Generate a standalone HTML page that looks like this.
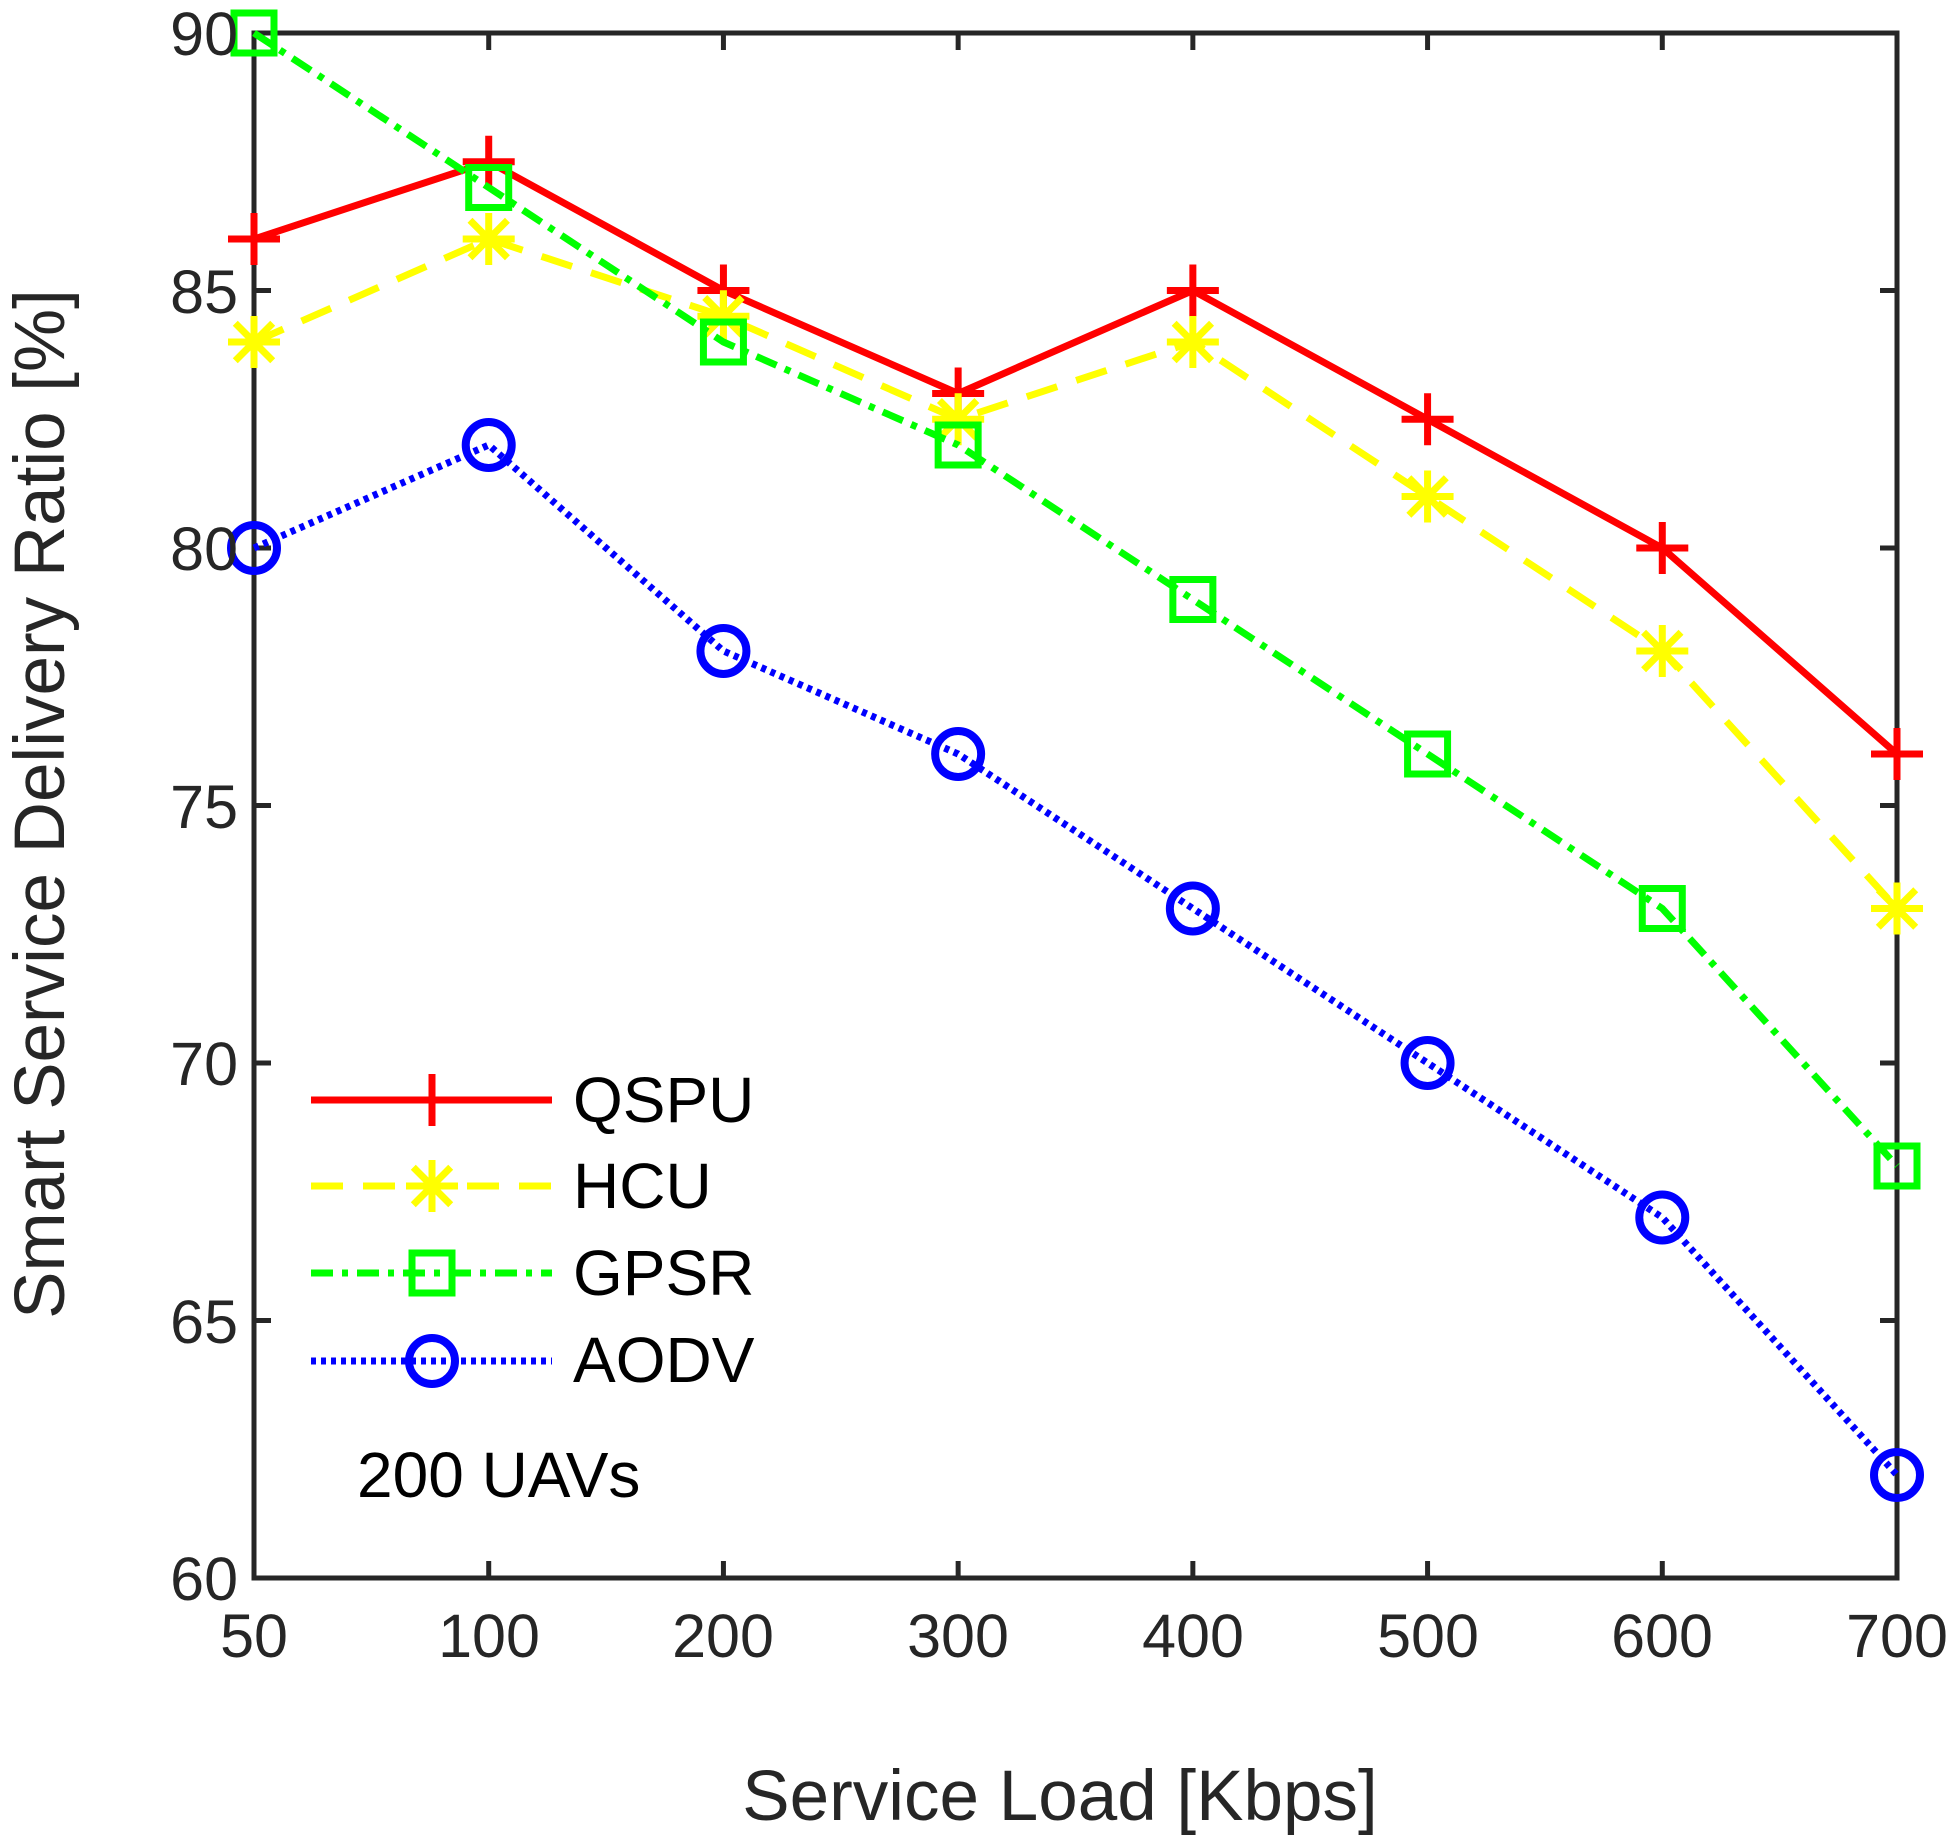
<!DOCTYPE html>
<html><head><meta charset="utf-8"><style>
html,body{margin:0;padding:0;background:#fff}
svg{display:block}
text{font-family:"Liberation Sans",Arial,sans-serif;fill:#262626}
</style></head><body>
<svg id="s" width="1957" height="1837" viewBox="0 0 1957 1837" xmlns="http://www.w3.org/2000/svg">
<rect width="1957" height="1837" fill="#fff"/>
<g id="axes" stroke="#262626" stroke-width="5" fill="none"></g>
<g id="series"></g>
<g font-size="61" text-anchor="end">
<text x="238" y="1600">60</text><text x="238" y="1343">65</text><text x="238" y="1085">70</text>
<text x="238" y="828">75</text><text x="238" y="570">80</text><text x="238" y="313">85</text><text x="238" y="55">90</text>
</g>
<g font-size="61" text-anchor="middle">
<text x="254" y="1657">50</text><text x="489" y="1657">100</text><text x="723" y="1657">200</text>
<text x="958" y="1657">300</text><text x="1193" y="1657">400</text><text x="1428" y="1657">500</text>
<text x="1662" y="1657">600</text><text x="1897" y="1657">700</text>
</g>
<text x="1060" y="1820" font-size="71" text-anchor="middle">Service Load [Kbps]</text>
<text transform="translate(64,804) rotate(-90)" font-size="71" text-anchor="middle">Smart Service Delivery Ratio [%]</text>
<g font-size="64">
<text x="573" y="1122" style="fill:#000">QSPU</text>
<text x="573" y="1208" style="fill:#000">HCU</text>
<text x="573" y="1295" style="fill:#000">GPSR</text>
<text x="573" y="1382" style="fill:#000">AODV</text>
<text x="357" y="1497" style="fill:#000">200 UAVs</text>
</g>
</svg>
<script>
var NS="http://www.w3.org/2000/svg";
function el(p,t,a){var e=document.createElementNS(NS,t);for(var k in a)e.setAttribute(k,a[k]);p.appendChild(e);return e;}
var L=254,R=1897,T=33,B=1578;
var ax=document.getElementById('axes');
el(ax,'rect',{x:L,y:T,width:R-L,height:B-T});
for(var v=60;v<=90;v+=5){var y=B-(v-60)*51.5;el(ax,'line',{x1:L,y1:y,x2:L+17,y2:y});el(ax,'line',{x1:R,y1:y,x2:R-17,y2:y});}
var xs=[];for(var i=0;i<8;i++){var x=L+i*(R-L)/7;xs.push(x);el(ax,'line',{x1:x,y1:B,x2:x,y2:B-17});el(ax,'line',{x1:x,y1:T,x2:x,y2:T+17});}
function Y(v){return B-(v-60)*51.5;}
var S=[
{c:'#ff0000',d:[86,87.5,85,83,85,82.5,80,76],da:'',m:'plus'},
{c:'#ffff00',d:[84,86,84.5,82.5,84,81,78,73],da:'32 20',m:'star'},
{c:'#00ff00',d:[90,87,84,82,79,76,73,68],da:'22 9 6 9',m:'sq'},
{c:'#0000ff',d:[80,82,78,76,73,70,67,62],da:'5 5',m:'circ'}];
var g=document.getElementById('series');
function marker(x,y,s){var a={stroke:s.c,'stroke-width':7,fill:'none'};var r=26;
 if(s.m=='plus'){el(g,'path',Object.assign({d:'M'+(x-r)+' '+y+'H'+(x+r)+'M'+x+' '+(y-r)+'V'+(y+r)},a));}
 else if(s.m=='star'){var q=r*0.72;el(g,'path',Object.assign({d:'M'+(x-r)+' '+y+'H'+(x+r)+'M'+x+' '+(y-r)+'V'+(y+r)+'M'+(x-q)+' '+(y-q)+'L'+(x+q)+' '+(y+q)+'M'+(x-q)+' '+(y+q)+'L'+(x+q)+' '+(y-q)},a));}
 else if(s.m=='sq'){el(g,'rect',Object.assign({x:x-20,y:y-20,width:40,height:40},a));}
 else {a['stroke-width']=8;el(g,'circle',Object.assign({cx:x,cy:y,r:23},a));}}
S.forEach(function(s){var p=s.d.map(function(v,i){return xs[i]+','+Y(v);}).join(' ');
 var a={points:p,stroke:s.c,'stroke-width':7,fill:'none'};if(s.da)a['stroke-dasharray']=s.da;el(g,'polyline',a);
 s.d.forEach(function(v,i){marker(xs[i],Y(v),s);});});
var ly=[1100,1186,1273,1361];
S.forEach(function(s,i){var a={x1:311,y1:ly[i],x2:552,y2:ly[i],stroke:s.c,'stroke-width':7};if(s.da)a['stroke-dasharray']=s.da;el(g,'line',a);marker(432,ly[i],s);});
</script>
</body></html>
